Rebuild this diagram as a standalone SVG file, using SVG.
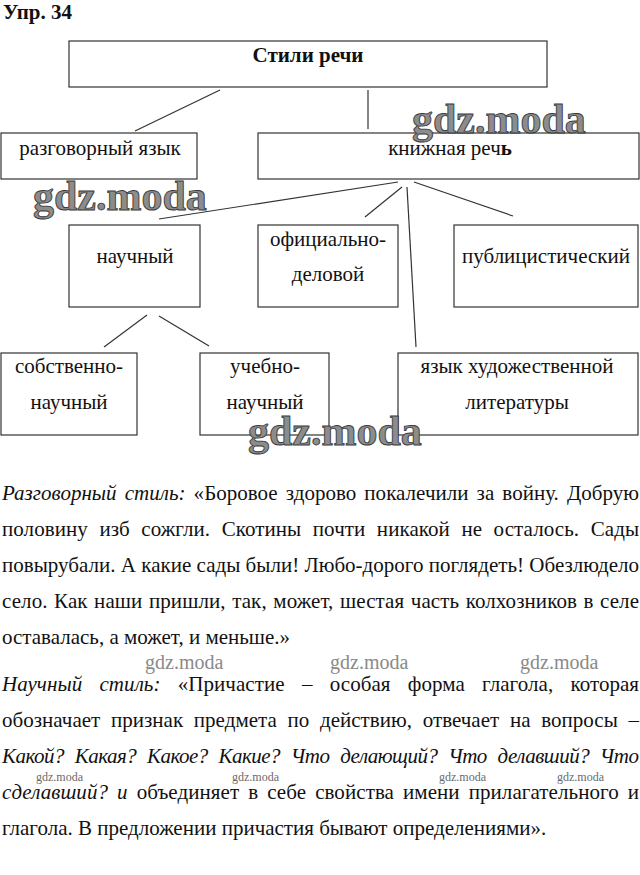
<svg xmlns="http://www.w3.org/2000/svg" width="640" height="875" viewBox="0 0 640 875">
<style>
.box{fill:#fff;stroke:#333;stroke-width:1.2}
.bt{font-family:"Liberation Serif","Times New Roman",serif;font-size:21px;fill:#111;text-anchor:middle}
.b{font-weight:bold}
.p{font-family:"Liberation Serif","Times New Roman",serif;font-size:21px;fill:#111}
.i{font-style:italic}
.con line{stroke:#333;stroke-width:1.2}
.wm{font-family:"Liberation Serif","Times New Roman",serif;font-weight:bold;font-size:42px;fill:#8c8c8c;stroke:#3a3a3a;stroke-width:0.9}
.ws{font-family:"Liberation Serif","Times New Roman",serif;font-size:20px;fill:#8a8a8a}
.wt{font-family:"Liberation Serif","Times New Roman",serif;font-size:12px;fill:#6a6a6a}
</style>
<rect width="640" height="875" fill="#fff"/>
<text x="3" y="19" class="p b" font-size="20">Упр. 34</text>

<g id="connectors" class="con">
<line x1="220" y1="90" x2="135" y2="131"/>
<line x1="368" y1="90" x2="368" y2="129"/>
<line x1="398" y1="182" x2="159" y2="219"/>
<line x1="402" y1="187" x2="365" y2="217"/>
<line x1="407" y1="187" x2="416" y2="347"/>
<line x1="414" y1="182" x2="513" y2="216"/>
<line x1="147" y1="315" x2="104" y2="347"/>
<line x1="159" y1="316" x2="209" y2="346"/>
</g>

<g id="n-styles"><rect class="box" x="69" y="41" width="478" height="46"/><text class="bt b" x="308" y="62">Стили речи</text></g>
<g id="n-razg"><rect class="box" x="1" y="133" width="196" height="46"/><text class="bt" x="100" y="155">разговорный язык</text></g>
<g id="n-kniz"><rect class="box" x="258" y="133" width="381" height="46"/><text class="bt" x="450" y="155">книжная реч<tspan class="b">ь</tspan></text></g>
<g id="n-nauch"><rect class="box" x="69" y="225" width="131" height="82"/><text class="bt" x="135" y="263">научный</text></g>
<g id="n-ofic"><rect class="box" x="258" y="225" width="140" height="82"/><text class="bt" x="328" y="246">официально-</text><text class="bt" x="328" y="281">деловой</text></g>
<g id="n-publ"><rect class="box" x="454" y="225" width="184" height="82"/><text class="bt" x="546" y="263">публицистический</text></g>
<g id="n-sobst"><rect class="box" x="1" y="353" width="136" height="82"/><text class="bt" x="69" y="373">собственно-</text><text class="bt" x="69" y="409">научный</text></g>
<g id="n-ucheb"><rect class="box" x="200" y="353" width="129" height="82"/><text class="bt" x="265" y="373">учебно-</text><text class="bt" x="265" y="409">научный</text></g>
<g id="n-hud"><rect class="box" x="398" y="353" width="240" height="82"/><text class="bt" x="517" y="373">язык художественной</text><text class="bt" x="517" y="409">литературы</text></g>

<g id="watermarks-large">
<text class="wm" x="412" y="133">gdz.moda</text>
<text class="wm" x="33" y="210">gdz.moda</text>
<text class="wm" x="248" y="445">gdz.moda</text>
</g>

<g id="para1" class="p">
<text x="2" y="500" textLength="637" lengthAdjust="spacing" word-spacing="2.8"><tspan class="i">Разговорный стиль:</tspan> «Боровое здорово покалечили за войну. Добрую</text>
<text x="2" y="536" textLength="637" lengthAdjust="spacing" word-spacing="6.2">половину изб сожгли. Скотины почти никакой не осталось. Сады</text>
<text x="2" y="572" textLength="637" lengthAdjust="spacing">повырубали. А какие сады были! Любо-дорого поглядеть! Обезлюдело</text>
<text x="2" y="608" textLength="637" lengthAdjust="spacing" word-spacing="1.2">село. Как наши пришли, так, может, шестая часть колхозников в селе</text>
<text x="2" y="644">оставалась, а может, и меньше.»</text>
</g>

<g id="watermarks-small">
<text class="ws" x="145" y="669">gdz.moda</text>
<text class="ws" x="330" y="669">gdz.moda</text>
<text class="ws" x="520" y="669">gdz.moda</text>
<text class="wt" x="36" y="781">gdz.moda</text>
<text class="wt" x="232" y="781">gdz.moda</text>
<text class="wt" x="439" y="781">gdz.moda</text>
<text class="wt" x="557" y="781">gdz.moda</text>
</g>

<g id="para2" class="p">
<text x="2" y="691" textLength="637" lengthAdjust="spacing" word-spacing="12"><tspan class="i">Научный стиль:</tspan> «Причастие – особая форма глагола, которая</text>
<text x="2" y="727" textLength="637" lengthAdjust="spacing" word-spacing="5.4">обозначает признак предмета по действию, отвечает на вопросы –</text>
<text x="2" y="763" class="i" textLength="637" lengthAdjust="spacing" word-spacing="6">Какой? Какая? Какое? Какие? Что делающий? Что делавший? Что</text>
<text x="2" y="799" textLength="637" lengthAdjust="spacing" word-spacing="3.7"><tspan class="i">сделавший? и</tspan> объединяет в себе свойства имени прилагательного и</text>
<text x="2" y="835">глагола. В предложении причастия бывают определениями».</text>
</g>
</svg>
